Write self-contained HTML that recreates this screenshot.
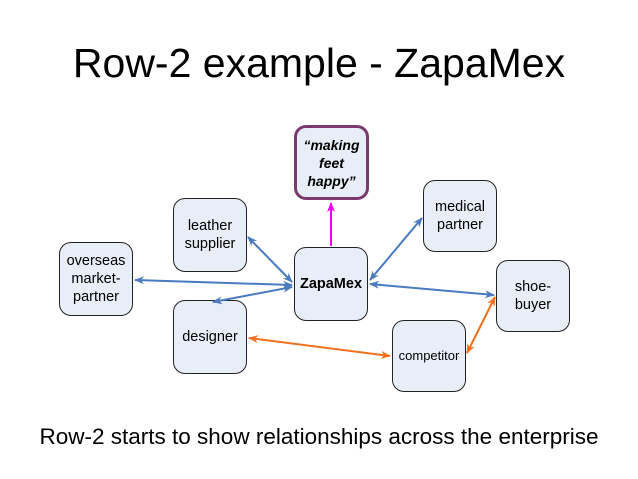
<!DOCTYPE html>
<html><head><style>
body{margin:0;width:638px;height:479px;background:#fff;overflow:hidden;font-family:"Liberation Sans",sans-serif}
.t{position:absolute;left:0;width:638px;text-align:center;color:#000}
.b{position:absolute;width:72px;height:72px;background:#e8eef8;border:1px solid #222;border-radius:12px;display:flex;align-items:center;justify-content:center;text-align:center;font-size:14.5px;line-height:18px;box-sizing:border-box}
</style></head><body>
<div class="t" style="top:40px;font-size:41px">Row-2 example - ZapaMex</div>
<div class="t" style="top:424px;font-size:22.5px">Row-2 starts to show relationships across the enterprise</div>
<div class="b" style="left:294px;top:125px;width:75px;height:75px;border:3px solid #7a3a6e;font-weight:bold;font-style:italic;font-size:14px">“making<br>feet<br>happy”</div>
<div class="b" style="left:173px;top:198px;width:74px;height:74px">leather<br>supplier</div>
<div class="b" style="left:59px;top:242px;width:74px;height:74px">overseas<br>market-<br>partner</div>
<div class="b" style="left:173px;top:300px;width:74px;height:74px">designer</div>
<div class="b" style="left:294px;top:247px;width:74px;height:74px;font-weight:bold">ZapaMex</div>
<div class="b" style="left:423px;top:180px;width:74px;height:72px">medical<br>partner</div>
<div class="b" style="left:496px;top:260px;width:74px;height:72px">shoe-<br>buyer</div>
<div class="b" style="left:392px;top:320px;width:74px;height:72px;font-size:13px">competitor</div>
<svg width="638" height="479" style="position:absolute;left:0;top:0">
<defs>
<marker id="mb" markerWidth="10" markerHeight="8" refX="9" refY="4" orient="auto-start-reverse" markerUnits="userSpaceOnUse"><path d="M0,0 L10,4 L0,8 L3,4Z" fill="#4a7ac0"/></marker>
<marker id="mo" markerWidth="10" markerHeight="8" refX="9" refY="4" orient="auto-start-reverse" markerUnits="userSpaceOnUse"><path d="M0,0 L10,4 L0,8 L3,4Z" fill="#f07020"/></marker>
<marker id="mm" markerWidth="10" markerHeight="8" refX="9" refY="4" orient="auto-start-reverse" markerUnits="userSpaceOnUse"><path d="M0,0 L10,4 L0,8 L3,4Z" fill="#ee00ee"/></marker>
</defs>
<g stroke="#4a7ac0" stroke-width="2" fill="none">
<line x1="248" y1="237" x2="292" y2="282" marker-start="url(#mb)" marker-end="url(#mb)"/>
<line x1="135" y1="280" x2="292" y2="285" marker-start="url(#mb)" marker-end="url(#mb)"/>
<line x1="213" y1="302" x2="292" y2="287" marker-start="url(#mb)" marker-end="url(#mb)"/>
<line x1="370" y1="280" x2="422" y2="218" marker-start="url(#mb)" marker-end="url(#mb)"/>
<line x1="370" y1="284" x2="494" y2="295" marker-start="url(#mb)" marker-end="url(#mb)"/>
</g>
<g stroke="#f07020" stroke-width="2" fill="none">
<line x1="249" y1="338" x2="390" y2="356" marker-start="url(#mo)" marker-end="url(#mo)"/>
<line x1="467" y1="353" x2="495" y2="297" marker-start="url(#mo)" marker-end="url(#mo)"/>
</g>
<line x1="331" y1="246" x2="331" y2="203" stroke="#ee00ee" stroke-width="2" marker-end="url(#mm)"/>
</svg>
</body></html>
